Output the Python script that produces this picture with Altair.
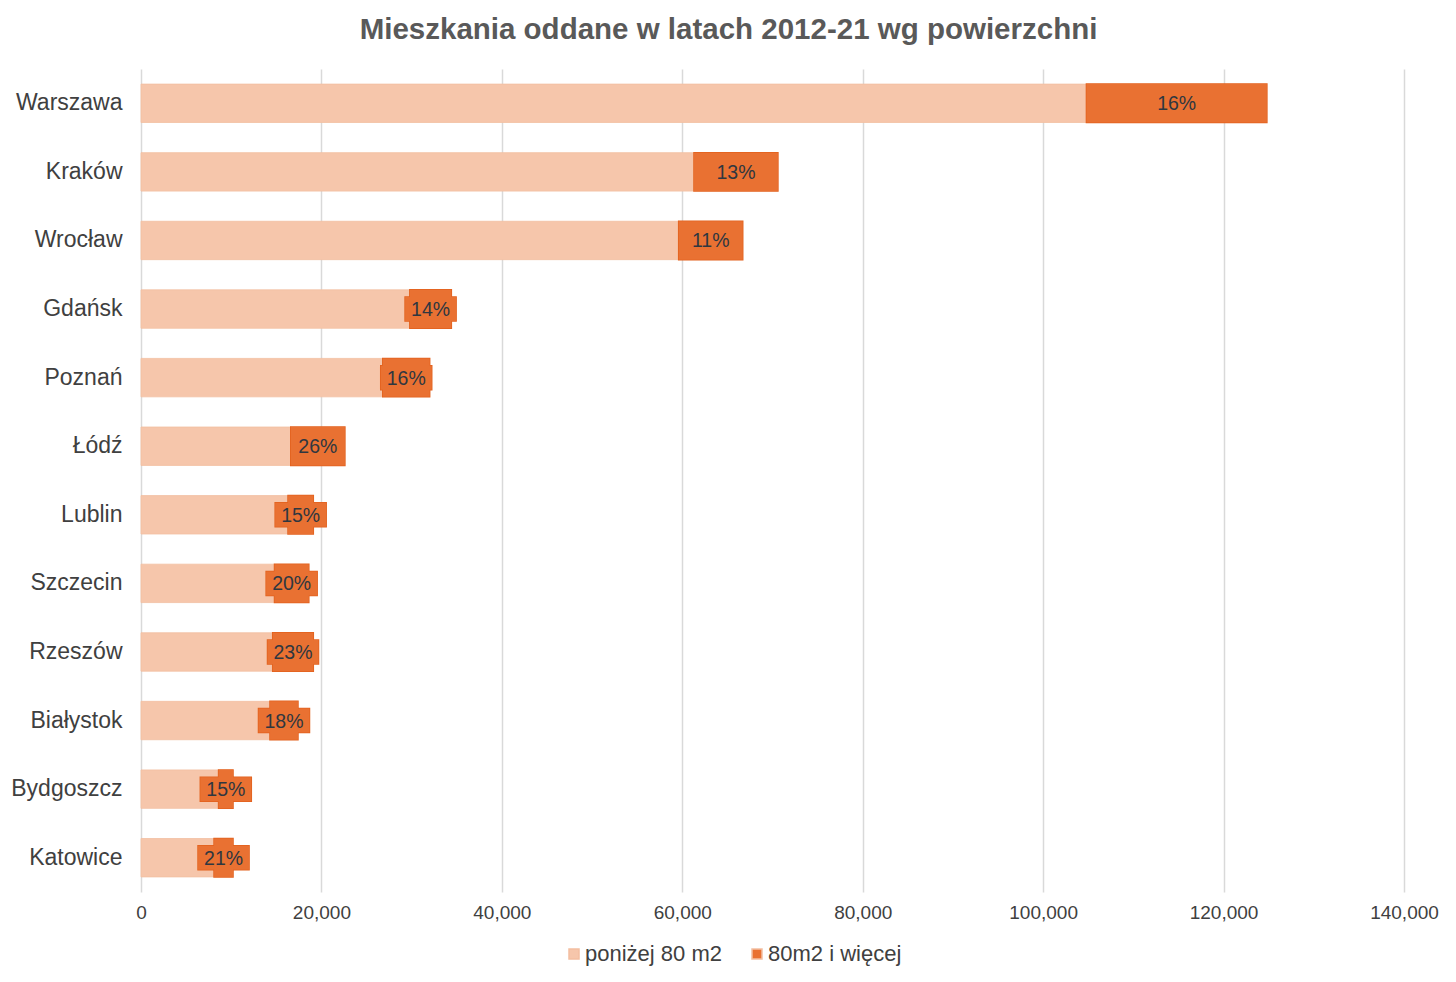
import altair as alt
import pandas as pd

cities = ["Warszawa", "Kraków", "Wrocław", "Gdańsk", "Poznań", "Łódź", "Lublin",
          "Szczecin", "Rzeszów", "Białystok", "Bydgoszcz", "Katowice"]
below80 = [104800, 61300, 59600, 29800, 26800, 16600, 16300, 14800, 14600, 14300, 8600, 8100]
above80 = [20000, 9300, 7100, 4600, 5200, 6000, 2800, 3800, 4500, 3100, 1600, 2100]
pct_labels = ["16%", "13%", "11%", "14%", "16%", "26%", "15%", "20%", "23%", "18%", "15%", "21%"]
x_ticks = [0, 20000, 40000, 60000, 80000, 100000, 120000, 140000]
series = ["poniżej 80 m2", "80m2 i więcej"]

LIGHT = "#F6C6AB"
DARK = "#E97132"
EDGE = "#E2601C"
FONT = "Liberation Sans"

df = pd.DataFrame({"city": cities, "small": below80, "large": above80, "pct": pct_labels})

base = alt.Chart(df).transform_calculate(
    zero="0",
    total="datum.small + datum.large",
    mid="datum.small + datum.large / 2",
)

xscale = alt.Scale(domain=[0, 140000], nice=False, zero=True)
ysort = alt.Y("city:N", sort=cities)

y_axis = alt.Y("city:N", sort=cities, title=None,
               scale=alt.Scale(paddingInner=0.44, paddingOuter=0.22),
               axis=alt.Axis(labelFontSize=23, labelColor="#404040", labelFont=FONT,
                             ticks=False, domain=False, labelPadding=19))

x_axis = alt.X("zero:Q", scale=xscale, title=None,
               axis=alt.Axis(values=x_ticks, format=",d", labelFontSize=19,
                             labelColor="#404040", labelFont=FONT, domain=False,
                             ticks=False, labelPadding=11, labelFlush=False, grid=True,
                             gridColor="#D9D9D9", gridWidth=1.5))

color_scale = alt.Scale(domain=series, range=[LIGHT, DARK])
legend = alt.Legend(orient="none", legendX=422, legendY=874, direction="horizontal",
                    title=None, symbolType="square", symbolSize=100, labelFontSize=22,
                    labelColor="#404040", labelFont=FONT, columnPadding=24, labelOffset=0,
                    padding=0)

light = base.mark_bar(stroke="#F3BFA1", strokeWidth=0.8).encode(
    y=y_axis,
    x=x_axis,
    x2="small:Q",
    color=alt.Color("series:N", scale=color_scale, legend=legend),
).transform_calculate(series="'" + series[0] + "'")

box_stroke = base.mark_bar(height=24, xOffset=-25.5, x2Offset=25.5, fill=DARK,
                           stroke=EDGE, strokeWidth=1.5).encode(
    y=ysort, x=alt.X("mid:Q", scale=xscale), x2="mid:Q")

dark_stroke = base.mark_bar(stroke=EDGE, strokeWidth=1.5).encode(
    y=ysort, x=alt.X("small:Q", scale=xscale), x2="total:Q",
    color=alt.Color("series:N", scale=color_scale, legend=legend),
).transform_calculate(series="'" + series[1] + "'")

box_fill = base.mark_bar(height=24, xOffset=-25.5, x2Offset=25.5, fill=DARK,
                         strokeWidth=0).encode(
    y=ysort, x=alt.X("mid:Q", scale=xscale), x2="mid:Q")

dark_fill = base.mark_bar(fill=DARK, strokeWidth=0).encode(
    y=ysort, x=alt.X("small:Q", scale=xscale), x2="total:Q")

labels = base.mark_text(fontSize=19.5, font=FONT, color="#2F3740", align="center",
                        baseline="middle", dy=1).encode(
    y=ysort, x=alt.X("mid:Q", scale=xscale), text="pct:N")

chart = alt.layer(light, box_stroke, dark_stroke, box_fill, dark_fill, labels).properties(
    width=1263, height=823,
    background="white",
    title=alt.Title("Mieszkania oddane w latach 2012-21 wg powierzchni", fontSize=29.5,
                    fontWeight="bold", color="#595959", font=FONT, anchor="middle",
                    dx=-44, offset=24),
    autosize=alt.AutoSizeParams(type="none"),
    padding={"left": 133, "top": 61, "right": 44, "bottom": 82},
).configure_view(stroke=None)

chart.save("out.html", embed_options={"renderer": "svg", "actions": False})
